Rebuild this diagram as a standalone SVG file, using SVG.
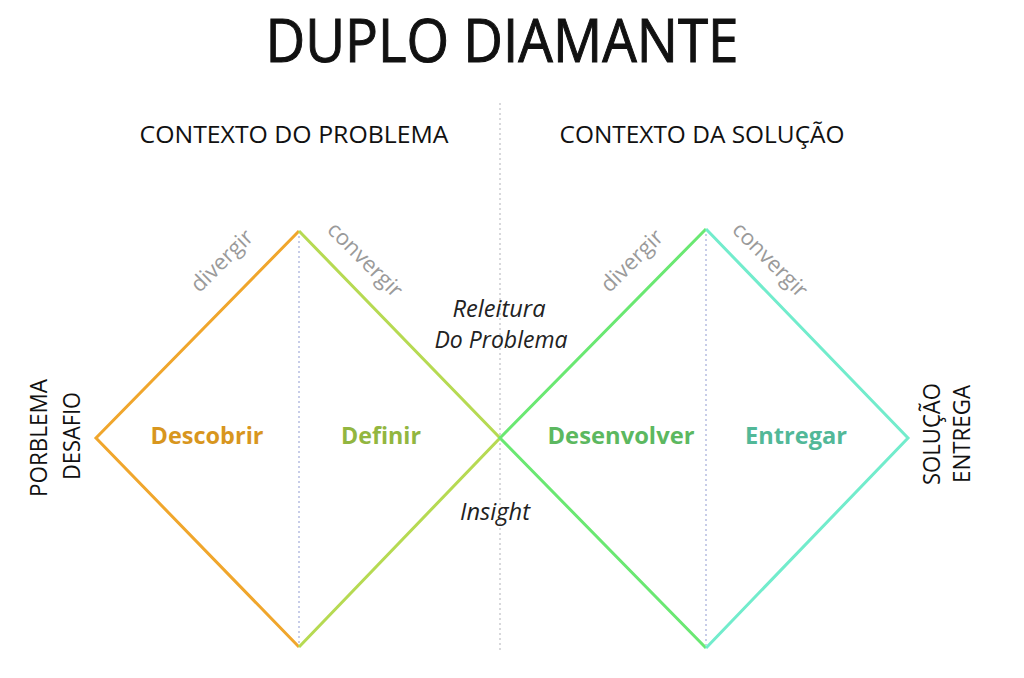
<svg xmlns="http://www.w3.org/2000/svg" width="1024" height="678" viewBox="0 0 1024 678">
<style>
.t{font-family:"Open Sans","Liberation Sans",sans-serif;fill:#111}
.h{font-size:24px}
.g{font-family:"Open Sans","Liberation Sans",sans-serif;font-size:22px;fill:#9a9a9a}
.b{font-family:"Open Sans","Liberation Sans",sans-serif;font-size:23px;font-weight:bold}
.i{font-family:"Open Sans","Liberation Sans",sans-serif;font-size:23px;font-style:italic;fill:#222}
.edge{fill:none;stroke-width:3;stroke-linejoin:miter}
.dot{fill:none;stroke-width:1.3;stroke-dasharray:2 3}
</style>
<rect width="1024" height="678" fill="#ffffff"/>
<g id="title">
<text class="t" x="502" y="62" font-size="60" stroke="#111" stroke-width="1" text-anchor="middle" textLength="473" lengthAdjust="spacingAndGlyphs">DUPLO DIAMANTE</text>
</g>
<g id="headers">
<text class="t h" x="294" y="143" text-anchor="middle" textLength="309" lengthAdjust="spacingAndGlyphs">CONTEXTO DO PROBLEMA</text>
<text class="t h" x="702" y="143" text-anchor="middle" textLength="285" lengthAdjust="spacingAndGlyphs">CONTEXTO DA SOLUÇÃO</text>
</g>
<g id="guides">
<line class="dot" x1="500" y1="103" x2="500" y2="652" stroke="#c4c4c8"/>
<line class="dot" x1="299" y1="236" x2="299" y2="645" stroke="#aab2dc"/>
<line class="dot" x1="706" y1="234" x2="706" y2="645" stroke="#aab2dc"/>
</g>
<g id="connectors">
<path class="edge" d="M299,231 L96,438 L299,647" stroke="#f0a62c"/>
<path class="edge" d="M299,231 L500,438 L299,647" stroke="#b6da52"/>
<path class="edge" d="M706,229 L500,438 L706,648" stroke="#6ae872"/>
<path class="edge" d="M706,229 L908,438 L706,648" stroke="#72eccc"/>
</g>
<g id="node-descobrir">
<text class="b" x="207" y="444" text-anchor="middle" fill="#d8961e" textLength="113" lengthAdjust="spacingAndGlyphs">Descobrir</text>
<text class="g" transform="translate(227,266) rotate(-45)" text-anchor="middle">divergir</text>
</g>
<g id="node-definir">
<text class="b" x="381" y="444" text-anchor="middle" fill="#92b640" textLength="80" lengthAdjust="spacingAndGlyphs">Definir</text>
<text class="g" transform="translate(360,265) rotate(45)" text-anchor="middle">convergir</text>
</g>
<g id="node-desenvolver">
<text class="b" x="621" y="444" text-anchor="middle" fill="#5cb860" textLength="147" lengthAdjust="spacingAndGlyphs">Desenvolver</text>
<text class="g" transform="translate(637,266) rotate(-45)" text-anchor="middle">divergir</text>
</g>
<g id="node-entregar">
<text class="b" x="796" y="444" text-anchor="middle" fill="#52b898" textLength="102" lengthAdjust="spacingAndGlyphs">Entregar</text>
<text class="g" transform="translate(765,265) rotate(45)" text-anchor="middle">convergir</text>
</g>
<g id="center-labels">
<text class="i" x="499" y="317" text-anchor="middle" textLength="93" lengthAdjust="spacingAndGlyphs">Releitura</text>
<text class="i" x="501" y="348" text-anchor="middle" textLength="133" lengthAdjust="spacingAndGlyphs">Do Problema</text>
<text class="i" x="495" y="520" text-anchor="middle" textLength="70" lengthAdjust="spacingAndGlyphs">Insight</text>
</g>
<g id="start">
<text class="t h" transform="translate(47,438) rotate(-90)" text-anchor="middle" textLength="118" lengthAdjust="spacingAndGlyphs">PORBLEMA</text>
<text class="t h" transform="translate(80,436) rotate(-90)" text-anchor="middle" textLength="88" lengthAdjust="spacingAndGlyphs">DESAFIO</text>
</g>
<g id="end">
<text class="t h" transform="translate(940,434) rotate(-90)" text-anchor="middle" textLength="102" lengthAdjust="spacingAndGlyphs">SOLUÇÃO</text>
<text class="t h" transform="translate(970,434) rotate(-90)" text-anchor="middle" textLength="98" lengthAdjust="spacingAndGlyphs">ENTREGA</text>
</g>
</svg>
